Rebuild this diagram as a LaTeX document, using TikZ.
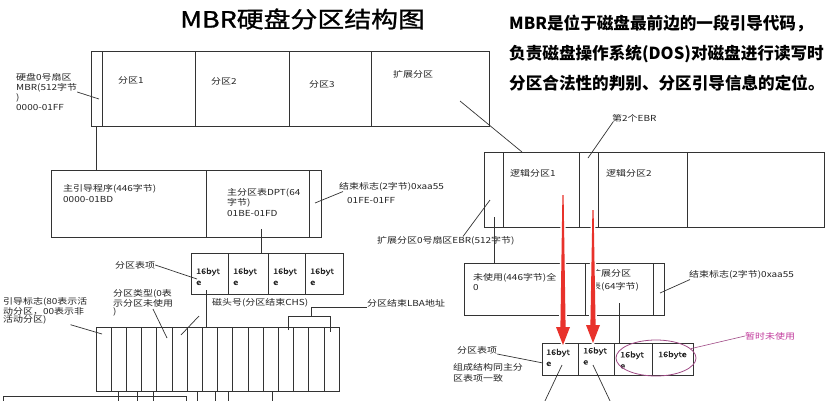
\documentclass[tikz,border=0pt]{standalone}
\usepackage{fontspec}
\setmainfont{Noto Sans CJK SC}[FakeStretch=1.2]
\newfontfamily\parafont{Noto Sans CJK SC}
\usetikzlibrary{arrows.meta,positioning,shapes.geometric,calc}
\definecolor{inkgray}{HTML}{222222}
\definecolor{boxline}{HTML}{333333}
\definecolor{warnred}{HTML}{E8322B}
\definecolor{plumline}{HTML}{A04A86}
\definecolor{plumtext}{HTML}{C23A9C}
\newcommand\labsize[1]{\fontsize{8.3}{#1}\selectfont}
\newcommand\cellat[5]{\node[cell, minimum width=#4pt, minimum height=#5pt] (#1) at (#2,#3) {};}
\newcommand\redarrow[2]{\fill[warnred, preaction={draw=white, line width=3pt, line join=round}]
  let \p1=(#1), \p2=(#2) in (\x1-0.6pt,\y1) -- (\x1+0.6pt,\y1) -- (\x2+2.6pt,\y2+18pt) -- (\x2+7pt,\y2+18pt)
  -- (\x2,\y2) -- (\x2-7pt,\y2+18pt) -- (\x2-2.6pt,\y2+18pt) -- cycle;}

\begin{document}
\begin{tikzpicture}[x=1pt, y=-1pt,
    cell/.style={draw=boxline, line width=0.9pt, inner sep=0pt, outer sep=0pt, anchor=north west},
    lbl/.style={font=\labsize{9}, anchor=west, inner sep=0pt, align=left, text=inkgray},
    bytes/.style={lbl, font=\fontsize{7.5}{11}\selectfont\addfontfeature{FakeBold=0.6}},
    lead/.style={draw=boxline, line width=0.7pt}
  ]
    \useasboundingbox (0,0) rectangle (831,400);
    \clip (0,0) rectangle (831,400);
    \fill[white] (0,0) rectangle (831,400);

    % title and note
    \node[anchor=west, inner sep=0pt, font=\fontsize{22.4}{24}\selectfont\addfontfeature{FakeBold=1.2}] (title) at (180,19) {MBR硬盘分区结构图};
    \node[anchor=west, inner sep=0pt, align=left, font=\parafont\bfseries\fontsize{16.6}{30}\selectfont] (note) at (509,53)
      {MBR是位于磁盘最前边的一段引导代码，\\负责磁盘操作系统(DOS)对磁盘进行读写时\\分区合法性的判别、分区引导信息的定位。};

    % whole disk
    \cellat{mbr}{91}{51}{11}{75}
    \cellat{part1}{102}{51}{93}{75}
    \cellat{part2}{195}{51}{94}{75}
    \cellat{part3}{289}{51}{82}{75}
    \cellat{extpart}{371}{51}{118}{75}
    \node[lbl] (part1t) at (118,80) {分区1};
    \node[lbl] (part2t) at (211,81) {分区2};
    \node[lbl] (part3t) at (309,84) {分区3};
    \node[lbl] (extpartt) at (393,74) {扩展分区};
    \node[lbl, font=\labsize{9.7}] (mbrlbl) at (16,92) {硬盘0号扇区\\MBR(512字节\\)\\0000-01FF};
    \coordinate (mbrpt) at (99,99);
    \draw[lead] (mbrlbl.east) -- (mbrpt);

    % MBR sector
    \cellat{boot}{51}{170}{155}{67}
    \cellat{dpt}{206}{170}{103}{67}
    \cellat{endsig}{309}{170}{12}{67}
    \draw[lead] (mbr.south) -- (mbr.south |- boot.north);
    \node[lbl, font=\labsize{11}] (boott) at (63,193.5) {主引导程序(446字节)\\0000-01BD};
    \node[lbl, font=\labsize{10.5}] (dptt) at (227,202.5) {主分区表DPT(64\\字节)\\01BE-01FD};
    \node[lbl] (sigt) at (339,187) {结束标志(2字节)0xaa55};
    \node[lbl] (sigaddr) at (347,201) {01FE-01FF};
    \coordinate (sigpt) at (315,203);
    \draw[lead] (sigpt) -- ([xshift=4pt]sigt.south west);

    % partition table entries
    \coordinate (dptpt) at (261,229);
    \cellat{dpe1}{191}{253}{37}{41}
    \cellat{dpe2}{228}{253}{40}{41}
    \cellat{dpe3}{268}{253}{37}{41}
    \cellat{dpe4}{305}{253}{38}{41}
    \draw[lead] (dptpt) -- (dptpt |- dpe2.north);
    \foreach \c in {dpe1,dpe2,dpe3,dpe4}
      \node[bytes] (\c-t) at ([xshift=5pt,yshift=-3pt]\c.west) {16byt\\e};
    \node[lbl] (pentlbl) at (115,265) {分区表项};
    \coordinate (pentpt) at (197,279);
    \draw[lead] (pentlbl.east) -- (pentpt);

    % one entry, 16 bytes
    \foreach \i in {0,...,15}
      \node[cell, minimum width=15.2pt, minimum height=64pt] (fld\i) at ({96+15.2*\i},327) {};
    \coordinate (dpe1pt) at (206,290);
    \draw[lead] (dpe1pt) -- (dpe1pt |- fld7.north);
    \node[lbl, font=\labsize{7.8}] (bootflag) at (3,311) {引导标志(80表示活\\动分区，00表示非\\活动分区)};
    \coordinate (bootflagpt) at (102,334);
    \draw[lead] ([xshift=-17pt]bootflag.south east) -- (bootflagpt);
    \node[lbl, font=\labsize{7.8}] (ptype) at (113,303) {分区类型(0表\\示分区未使用\\)};
    \coordinate (ptypept) at (167,338);
    \draw[lead] ([xshift=40pt,yshift=-6pt]ptype.west) -- (ptypept);
    \node[lbl] (headlbl) at (212,303) {磁头号(分区结束CHS)};
    \coordinate (headpt) at (181,335);
    \draw[lead] ([xshift=-13pt,yshift=-13pt]headlbl.west) -- (headpt);
    \node[lbl] (lbalbl) at (367,303) {分区结束LBA地址};
    \draw[lead] (lbalbl.south west) -- ++(-56,0) -- ++(0,9) coordinate (lbaknee);
    \coordinate (lbaA) at (288,330);
    \coordinate (lbaB) at (330,332);
    \draw[lead] (lbaA) |- (lbaknee) -| (lbaB);
    \foreach \i/\dx in {1/0,2/3,3/4,6/3,7/5,8/3,11/2}
      \draw[lead] ([xshift=\dx pt]fld\i.south) -- ++(0,12);
    \node[cell, minimum width=183pt, minimum height=20pt] (nextrec) at (3,396) {};

    % extended partition
    \cellat{ebr0}{484}{152}{19}{75}
    \cellat{logic1}{503}{152}{76}{75}
    \cellat{ebr2}{579}{152}{19}{75}
    \cellat{logic2}{598}{152}{89}{75}
    \cellat{logicn}{687}{152}{137}{75}
    \coordinate (extpt) at (460,101);
    \draw[lead] (extpt) -- ([xshift=19pt]logic1.north west);
    \node[lbl] (logic1t) at (510,173) {逻辑分区1};
    \node[lbl] (logic2t) at (606,173) {逻辑分区2};
    \node[lbl] (ebr2lbl) at (612,118) {第2个EBR};
    \coordinate (ebr2pt) at (588,158);
    \draw[lead] ([xshift=1pt]ebr2lbl.south west) -- (ebr2pt);
    \node[lbl] (ebr0lbl) at (377,241) {扩展分区0号扇区EBR(512字节)};
    \coordinate (ebr0pt) at (490,200);
    \draw[lead] ([xshift=86pt]ebr0lbl.north west) -- (ebr0pt);
    \coordinate (ebr0dn) at (494,217);

    % EBR sector
    \cellat{unused}{464}{263}{121}{52}
    \cellat{exttab}{585}{263}{68}{52}
    \cellat{extsig}{653}{263}{11}{52}
    \draw[lead] (ebr0dn) -- (ebr0dn |- unused.north);
    \node[lbl, font=\labsize{10}] (unusedt) at (473,282) {未使用(446字节)全\\0};
    \node[lbl, font=\labsize{13}] (exttabt) at (591,280) {扩展分区\\表(64字节)};
    \node[lbl] (extsiglbl) at (689,275) {结束标志(2字节)0xaa55};
    \coordinate (extsigpt) at (660,293);
    \draw[lead] (extsigpt) -- ([xshift=1pt]extsiglbl.south west);

    % EBR table entries
    \coordinate (exttabpt) at (619,303);
    \cellat{lpe1}{542}{343}{36}{32}
    \cellat{lpe2}{578}{343}{36}{32}
    \cellat{lpe3}{614}{343}{38}{32}
    \cellat{lpe4}{652}{343}{41}{32}
    \draw[lead] (exttabpt) -- (exttabpt |- lpe2.north);
    \node[bytes] (lpe1t) at (546,357.5) {16byt\\e};
    \node[bytes] (lpe2t) at (583,356) {16byt\\e};
    \node[bytes] (lpe3t) at (620,360) {16byt\\e};
    \node[bytes] (lpe4t) at (658,355) {16byte};
    \node[ellipse, draw=plumline, line width=0.8pt, inner sep=0pt, minimum width=80pt, minimum height=36pt] (idlering) at (656,358) {};
    \node[lbl, text=plumtext] (idlelbl) at (745,336) {暂时未使用};
    \draw[plumline, line width=0.6pt] (idlering.15) -- (idlelbl.west);
    \node[lbl] (pent2lbl) at (457,350) {分区表项};
    \coordinate (pent2pt) at (543,363);
    \draw[lead] (pent2lbl.south east) -- (pent2pt);
    \node[lbl, font=\labsize{11}] (samelbl) at (453,372.5) {组成结构同主分\\区表项一致};
    \coordinate (lpe1pt) at (562,365);
    \coordinate (lpe2pt) at (593,365);
    \coordinate (nextent1) at (544,403);
    \coordinate (nextent2) at (611,403);
    \draw[lead] (lpe1pt) -- (nextent1);
    \draw[lead] (lpe2pt) -- (nextent2);

    % red arrows
    \coordinate (arrowtop1) at (563,195);
    \coordinate (arrowtip1) at (563,345);
    \coordinate (arrowtop2) at (593,210);
    \coordinate (arrowtip2) at (593,343);
    \redarrow{arrowtop1}{arrowtip1}
    \redarrow{arrowtop2}{arrowtip2}
  \end{tikzpicture}
\end{document}
